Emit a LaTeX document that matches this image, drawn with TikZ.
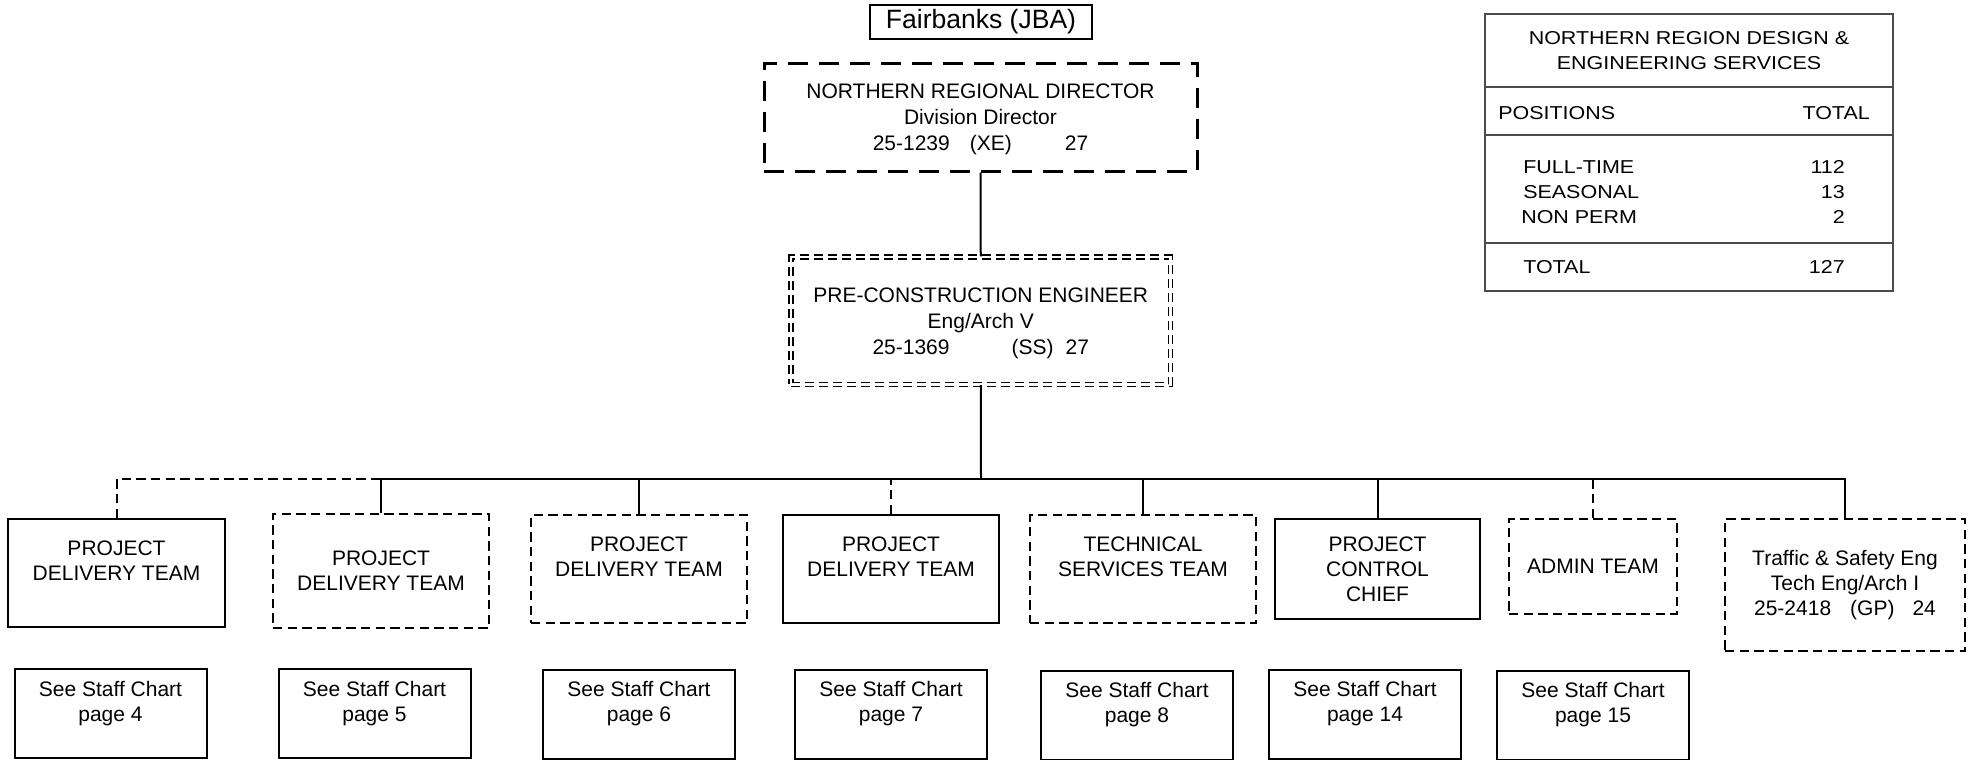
\documentclass[tikz,border=0pt]{standalone}
\usepackage{fontspec}
\setmainfont{Liberation Sans}
\newfontfamily\tabfont[FakeStretch=1.15]{Liberation Sans}
\tikzset{
  unitbox/.style={draw, line width=1.5, inner sep=0pt, align=center, font=\fontsize{15.75}{18.75}\selectfont},
  dashbox/.style={unitbox, dash pattern=on 7pt off 4pt},
  staffbox/.style={unitbox, minimum width=144pt, minimum height=66.75pt},
  tabtext/.style={inner sep=0pt, align=center, font=\tabfont\fontsize{14}{18.75}\selectfont},
  link/.style={line width=1.5},
  dashlink/.style={link, dash pattern=on 7pt off 4pt},
}
\begin{document}
\begin{tikzpicture}[x=0.75pt,y=0.75pt,yscale=-1,xscale=1]
\useasboundingbox (0,0) rectangle (1974,760);

% Title Node
\node [draw, line width=1.5, inner sep=0pt, minimum width=166.5pt, minimum height=25.5pt, font=\fontsize{19.9}{24}\selectfont] (fair) at (981,22) {Fairbanks (JBA)};

% Director
\node [unitbox, line width=2.25, dash pattern=on 15pt off 8.25pt, minimum width=324.75pt, minimum height=81pt, text depth=0pt, font=\fontsize{15.75}{19.5}\selectfont] (dir) at (980.5,117) {NORTHERN REGIONAL DIRECTOR\\Division Director\\25-1239\hspace{15pt}(XE)\hspace{39.75pt}27};
% Pre-construction
\node [unitbox, double, double distance=2pt, line width=1.1pt, dash pattern=on 6.75pt off 3.75pt, minimum width=284.6pt, minimum height=95.6pt, text depth=0pt, font=\fontsize{15.75}{19.5}\selectfont] (pce) at (980.75,320.75) {PRE-CONSTRUCTION ENGINEER\\Eng/Arch V\\25-1369\hspace{46.5pt}(SS)\hspace{9pt}27};

% Teams
\node [unitbox, minimum width=162.75pt, minimum height=81pt] (pdt1) at (116.5,573) {PROJECT\\DELIVERY TEAM\\~};
\node [dashbox, minimum width=162pt, minimum height=85.5pt] (pdt2) at (381,571) {PROJECT\\DELIVERY TEAM};
\node [dashbox, minimum width=162pt, minimum height=81pt] (pdt3) at (639,569) {PROJECT\\DELIVERY TEAM\\~};
\node [unitbox, minimum width=162pt, minimum height=81pt] (pdt4) at (891,569) {PROJECT\\DELIVERY TEAM\\~};
\node [dashbox, minimum width=169.5pt, minimum height=81pt] (tech) at (1143,569) {TECHNICAL\\SERVICES TEAM\\~};
\node [unitbox, minimum width=153.75pt, minimum height=75pt] (ctrl) at (1377.5,569) {PROJECT\\CONTROL\\CHIEF};
\node [dashbox, minimum width=126pt, minimum height=71.25pt] (admin) at (1593,566.5) {ADMIN TEAM};
\node [dashbox, minimum width=180pt, minimum height=99pt] (traf) at (1845,585) {Traffic \& Safety Eng\\Tech Eng/Arch I\\25-2418\hspace{14.25pt}(GP)\hspace{13.5pt}24};

% Staff charts
\node [staffbox] (s4) at (110.5,713.5) {See Staff Chart\\page 4\\~};
\node [staffbox] (s5) at (374.5,713.5) {See Staff Chart\\page 5\\~};
\node [staffbox] (s6) at (639,714) {See Staff Chart\\page 6\\~};
\node [staffbox] (s7) at (891,714) {See Staff Chart\\page 7\\~};
\node [staffbox] (s8) at (1137,715) {See Staff Chart\\page 8\\~};
\node [staffbox] (s14) at (1365,714) {See Staff Chart\\page 14\\~};
\node [staffbox] (s15) at (1593,715) {See Staff Chart\\page 15\\~};

% Connectors
\coordinate (bus) at (981,479);
\draw [link] (dir.south) -- (pce.north);
\draw [dashlink] (pdt1.north) |- (bus);
\draw [dashlink] (pdt4.north) |- (bus);
\draw [dashlink] (admin.north) |- (bus);
\draw [link] (pce.south) -- (bus);
\draw [link] (pdt2.north) |- (bus);
\draw [link] (pdt3.north) |- (bus);
\draw [link] (tech.north) |- (bus);
\draw [link] (ctrl.north) |- (bus);
\draw [link] (traf.north) |- (bus);

% Positions table
\draw [draw=black!70, line width=1.1] (1485,14) rectangle (1893,291);
\draw [draw=black!70, line width=1.1] (1485,87) -- (1893,87);
\draw [draw=black!70, line width=1.1] (1485,135) -- (1893,135);
\draw [draw=black!70, line width=1.1] (1485,243) -- (1893,243);
\node [tabtext] (ttl) at (1689,50.5) {NORTHERN REGION DESIGN \&\\ENGINEERING SERVICES};
\node [tabtext, anchor=west] (posn) at (1498,113) {POSITIONS};
\node [tabtext, anchor=east] (tothd) at (1870,113) {TOTAL};
\node [tabtext, anchor=west] (ft) at (1523,167) {FULL-TIME};
\node [tabtext, anchor=west] (seas) at (1523,192) {SEASONAL};
\node [tabtext, anchor=west] (np) at (1521,217) {NON PERM};
\node [tabtext, anchor=east] (ftn) at (1845,167) {112};
\node [tabtext, anchor=east] (seasn) at (1845,192) {13};
\node [tabtext, anchor=east] (npn) at (1845,217) {2};
\node [tabtext, anchor=west] (tot) at (1523,267) {TOTAL};
\node [tabtext, anchor=east] (totn) at (1845,267) {127};

\end{tikzpicture}
\end{document}
